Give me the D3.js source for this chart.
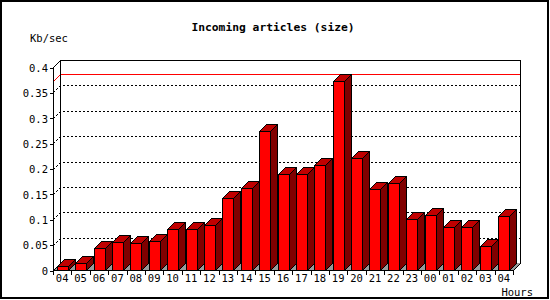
<!DOCTYPE html>
<html><head><meta charset="utf-8">
<script src="https://cdn.jsdelivr.net/npm/d3@7"></script>
<style>
html,body{margin:0;padding:0;background:#fff;}
svg{display:block;}
text{font-family:"DejaVu Sans Mono",monospace;font-size:10.5px;fill:#000;}
</style></head>
<body>
<svg id="chart" width="550" height="300"></svg>
<script>
const hours = ["04","05","06","07","08","09","10","11","12","13","14","15","16","17","18","19","20","21","22","23","00","01","02","03","04"];
const sizes = [0.007,0.013,0.043,0.055,0.053,0.057,0.081,0.081,0.088,0.141,0.161,0.274,0.190,0.190,0.206,0.372,0.220,0.159,0.171,0.100,0.108,0.084,0.084,0.047,0.106];
const yTicks = [0,0.05,0.1,0.15,0.2,0.25,0.3,0.35,0.4];
const yTickLabels = ["0","0.05","0.1","0.15","0.2","0.25","0.3","0.35","0.4"];
const title = "Incoming articles (size)";
const yTitle = "Kb/sec";
const xTitle = "Hours";

const svg = d3.select("#chart");
const DX = 7, DY = 7;
const x = d3.scaleBand().domain(d3.range(hours.length)).range([53, 513]);
const y = d3.scaleLinear().domain([0, 0.4]).range([270, 67]);
const bw = x.bandwidth();
const faceW = 11;
const L = 53, R = 513, B = 270, T = 67;
const FONT = "'DejaVu Sans Mono',monospace";

// frame
svg.append("rect").attr("x",1).attr("y",1).attr("width",547).attr("height",297)
  .attr("fill","none").attr("stroke","#000").attr("stroke-width",2);

// title
svg.append("text").attr("x",273).attr("y",30.5).attr("text-anchor","middle")
  .style("font-weight","bold").style("font-size","11.3px")
  .text(title);
svg.append("text").attr("x",30).attr("y",41.5).text(yTitle);
svg.append("text").attr("x",533).attr("y",295.5).attr("text-anchor","end").text(xTitle);

const g = svg.append("g").attr("shape-rendering","crispEdges");

// floor
g.append("polygon")
  .attr("points",[[L,B],[R,B],[R+DX,B-DY],[L+DX,B-DY]].map(p=>p.join(",")).join(" "))
  .attr("fill","#999999").attr("stroke","none");

// gridlines (dotted, 3D)
const grid = yTicks.filter(v => v > 0 && v < 0.4);
g.selectAll("path.grid").data(grid).enter().append("path")
  .attr("class","grid")
  .attr("d", v => { const yy = Math.round(y(v)) + 0.5; return `M${L+0.5},${yy}L${L+DX+0.5},${yy-DY}L${R+DX+0.5},${yy-DY}`; })
  .attr("fill","none").attr("stroke","#000").attr("stroke-dasharray","2,2");

// max line
const maxV = d3.max(sizes);
{
  const yy = Math.round(y(maxV)) + 0.5;
  g.append("path").attr("d",`M${L+0.5},${yy}L${L+DX+0.5},${yy-DY}L${R+DX+0.5},${yy-DY}`)
    .attr("fill","none").attr("stroke","#ff0000");
}

// back walls outline
g.append("path")
  .attr("d",`M${L+0.5},${T+0.5}L${L+DX+0.5},${T-DY+0.5}L${R+DX+0.5},${T-DY+0.5}L${R+DX+0.5},${B-DY+0.5}L${R+0.5},${B+0.5}`)
  .attr("fill","none").attr("stroke","#000");
g.append("path")
  .attr("d",`M${L+DX+0.5},${T-DY+0.5}L${L+DX+0.5},${B-DY+0.5}L${L+0.5},${B+0.5}`)
  .attr("fill","none").attr("stroke","#000");

// bars
const bars = g.selectAll("g.bar").data(sizes).enter().append("g").attr("class","bar");
bars.each(function(v, i) {
  const gb = d3.select(this);
  const fx = Math.round(x(i) + bw/2 - faceW/2) + 0.5;
  const top = Math.round(y(v)) + 0.5;
  const bot = B + 0.5;
  const pts = a => a.map(p => p.join(",")).join(" ");
  gb.append("polygon").attr("points", pts([[fx+faceW,top],[fx+faceW+DX,top-DY],[fx+faceW+DX,bot-DY],[fx+faceW,bot]]))
    .attr("fill","#800000").attr("stroke","#000");
  gb.append("polygon").attr("points", pts([[fx,top],[fx+DX,top-DY],[fx+faceW+DX,top-DY],[fx+faceW,top]]))
    .attr("fill","#c00000").attr("stroke","#000");
  gb.append("rect").attr("x",fx).attr("y",top).attr("width",faceW).attr("height",bot-top)
    .attr("fill","#ff0000").attr("stroke","#000");
});

// front axes
const yAxis = d3.axisLeft(y).tickValues(yTicks).tickFormat((d,i) => yTickLabels[i]).tickSize(4).tickSizeOuter(0);
const ya = svg.append("g").attr("transform",`translate(${L+0.5},0.5)`).call(yAxis);
ya.select(".domain").remove();
ya.selectAll("line").attr("stroke","#000").attr("shape-rendering","crispEdges");
ya.selectAll("text").attr("x",-5.5).attr("dy","0.36em").style("font-size","10.5px").style("font-family",FONT);

g.append("line").attr("x1",L+0.5).attr("x2",L+0.5).attr("y1",T).attr("y2",B+0.5).attr("stroke","#000");
g.append("line").attr("x1",L).attr("x2",R+0.5).attr("y1",B+0.5).attr("y2",B+0.5).attr("stroke","#000");

// x tick marks at band boundaries
const bounds = d3.range(hours.length + 1).map(i => i < hours.length ? x(i) : x(hours.length-1) + bw);
g.selectAll("line.xt").data(bounds).enter().append("line").attr("class","xt")
  .attr("x1", d => Math.round(d)+0.5).attr("x2", d => Math.round(d)+0.5)
  .attr("y1", B).attr("y2", B+4.5).attr("stroke","#000");

const xAxis = d3.axisBottom(x).tickFormat(i => hours[i]).tickSize(0).tickSizeOuter(0);
const xa = svg.append("g").attr("transform",`translate(0,${B})`).call(xAxis);
xa.select(".domain").remove();
xa.selectAll("text").attr("y",5).attr("dy","0.71em").style("font-size","10.5px").style("font-family",FONT);
</script>
</body></html>
